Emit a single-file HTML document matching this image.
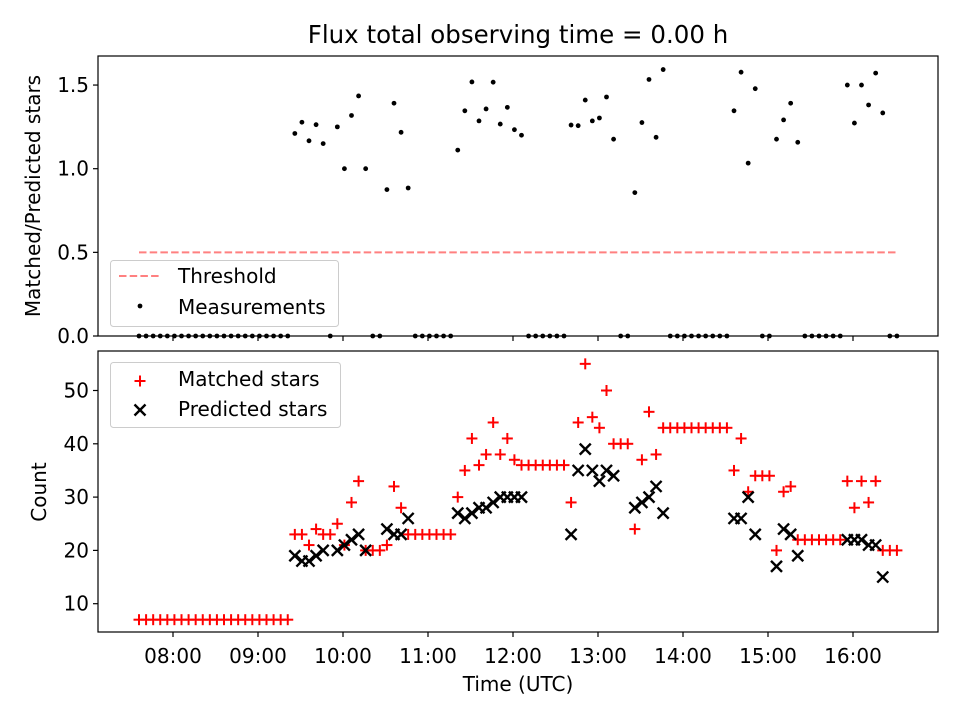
<!DOCTYPE html>
<html><head><meta charset="utf-8"><style>
body{margin:0;background:#fff}
svg{display:block;font-family:"DejaVu Sans","Liberation Sans",sans-serif}
</style></head><body>
<svg id="chart" width="960" height="720" viewBox="0 0 960 720" xmlns="http://www.w3.org/2000/svg">
<rect width="960" height="720" fill="#fff"/>
<text x="518" y="43" font-size="24.5" text-anchor="middle">Flux total observing time = 0.00 h</text>
<g id="topPanel"></g>
<g id="botPanel"></g>
</svg>
<script>
// time index i -> 07:36 + 5 min * i
const startMinutes = 456;
const stepMinutes = 5;
const matched = [7,7,7,7,7,7,7,7,7,7,7,7,7,7,7,7,7,7,7,7,7,7,
 23,23,21,24,23,23,25,21,29,33,20,20,20,21,32,28,
 23,23,23,23,23,23,23,
 30,35,41,36,38,44,38,41,37,36,36,36,36,36,36,36,
 29,44,55,45,43,50,40,40,40,24,37,46,38,
 43,43,43,43,43,43,43,43,43,43,
 35,41,31,34,34,34,20,31,32,
 22,22,22,22,22,22,22,
 33,28,33,29,33,20,20,20];
const predicted = [null,null,null,null,null,null,null,null,null,null,null,null,null,null,null,null,null,null,null,null,null,null,
 19,18,18,19,20,null,20,21,22,23,20,null,null,24,23,23,
 26,null,null,null,null,null,null,
 27,26,27,28,28,29,30,30,30,30,null,null,null,null,null,null,
 23,35,39,35,33,35,34,null,null,28,29,30,32,
 27,null,null,null,null,null,null,null,null,null,
 26,26,30,23,null,null,17,24,23,
 19,null,null,null,null,null,null,
 22,22,22,21,21,15,null,null];
const threshold = 0.5;
const topTicks = [0.0,0.5,1.0,1.5];
const botTicks = [10,20,30,40,50];
const timeTicks = ["08:00","09:00","10:00","11:00","12:00","13:00","14:00","15:00","16:00"];

const NS="http://www.w3.org/2000/svg";
function mk(tag,attrs,parent,text){const e=document.createElementNS(NS,tag);for(const k in attrs)e.setAttribute(k,attrs[k]);if(text!==undefined)e.textContent=text;parent.appendChild(e);return e;}
const L=98,R=938,FS=20;
const xT=m=>173+(m-480)*85/60;
const xI=i=>xT(startMinutes+stepMinutes*i);
const yTop=v=>336-v*167.3;
const yBot=v=>657-v*5.33;
const topG=document.getElementById('topPanel'), botG=document.getElementById('botPanel');

function frame(g,y0,y1,name){
  const r=mk('rect',{x:L,y:y0,width:R-L,height:y1-y0,fill:'none',stroke:'#000','stroke-width':1.2},g);
  
  
  timeTicks.forEach((t,k)=>{const x=xT(480+60*k);
    const tk=mk('line',{x1:x,x2:x,y1:y1,y2:y1+5,stroke:'#000','stroke-width':1.2},g);
    
    
  });
}
frame(topG,56,336,'ratio-axes');
frame(botG,351,632,'count-axes');

topTicks.forEach(v=>{const y=yTop(v);
  mk('line',{x1:L-5,x2:L,y1:y,y2:y,stroke:'#000','stroke-width':1.2},topG);
  const t=mk('text',{x:L-9,y:y+7,'font-size':FS,'text-anchor':'end'},topG,v.toFixed(1));
  
  
});
botTicks.forEach(v=>{const y=yBot(v);
  mk('line',{x1:L-5,x2:L,y1:y,y2:y,stroke:'#000','stroke-width':1.2},botG);
  const t=mk('text',{x:L-9,y:y+7,'font-size':FS,'text-anchor':'end'},botG,String(v));
  
  
});
timeTicks.forEach((s,k)=>{
  const t=mk('text',{x:xT(480+60*k),y:663,'font-size':FS,'text-anchor':'middle'},botG,s);
  
  
});
let t;
t=mk('text',{x:518,y:691,'font-size':FS,'text-anchor':'middle'},botG,'Time (UTC)');


t=mk('text',{x:0,y:0,'font-size':FS,'text-anchor':'middle',transform:'translate(40,196) rotate(-90)'},topG,'Matched/Predicted stars');


t=mk('text',{x:0,y:0,'font-size':FS,'text-anchor':'middle',transform:'translate(46,492) rotate(-90)'},botG,'Count');



// threshold
t=mk('line',{x1:xI(0),x2:xI(matched.length-1),y1:yTop(threshold),y2:yTop(threshold),stroke:'#ff8080','stroke-width':2,'stroke-dasharray':'7.5,3.2'},topG);


// ratio points
matched.forEach((m,i)=>{
  const p=predicted[i];
  const r=(p==null||m==null)?0:m/p;
  const c=mk('circle',{cx:xI(i),cy:yTop(r),r:2.4,fill:'#000'},topG);
  
  
});
// count markers
function plus(g,x,y){const gg=mk('g',{stroke:'#f00','stroke-width':2},g);
  mk('line',{x1:x-5.5,x2:x+5.5,y1:y,y2:y},gg);mk('line',{x1:x,x2:x,y1:y-5.5,y2:y+5.5},gg);return gg;}
function cross(g,x,y){const gg=mk('g',{stroke:'#000','stroke-width':2.4},g);const d=5.5;
  mk('line',{x1:x-d,x2:x+d,y1:y-d,y2:y+d},gg);mk('line',{x1:x-d,x2:x+d,y1:y+d,y2:y-d},gg);return gg;}
matched.forEach((m,i)=>{if(m==null)return;
  const g=plus(botG,xI(i),yBot(m));
  
  
});
predicted.forEach((p,i)=>{if(p==null)return;
  const g=cross(botG,xI(i),yBot(p));
  
  
});

// legends
let lg=mk('g',{},topG);


mk('rect',{x:110.5,y:260.5,width:228,height:66,rx:3,fill:'#fff','fill-opacity':0.8,stroke:'#ccc'},lg);
mk('line',{x1:119,x2:160,y1:276,y2:276,stroke:'#ff8080','stroke-width':2,'stroke-dasharray':'7.5,3.2'},lg);
mk('text',{x:178,y:283,'font-size':FS},lg,'Threshold');
mk('circle',{cx:140,cy:306,r:2.4,fill:'#000'},lg);
mk('text',{x:178,y:314,'font-size':FS},lg,'Measurements');

lg=mk('g',{},botG);


mk('rect',{x:110.5,y:362.5,width:230,height:65,rx:3,fill:'#fff','fill-opacity':0.8,stroke:'#ccc'},lg);
plus(lg,140,381);
mk('text',{x:178,y:386,'font-size':FS},lg,'Matched stars');
cross(lg,140,410);
mk('text',{x:178,y:416,'font-size':FS},lg,'Predicted stars');
</script>
</body></html>
